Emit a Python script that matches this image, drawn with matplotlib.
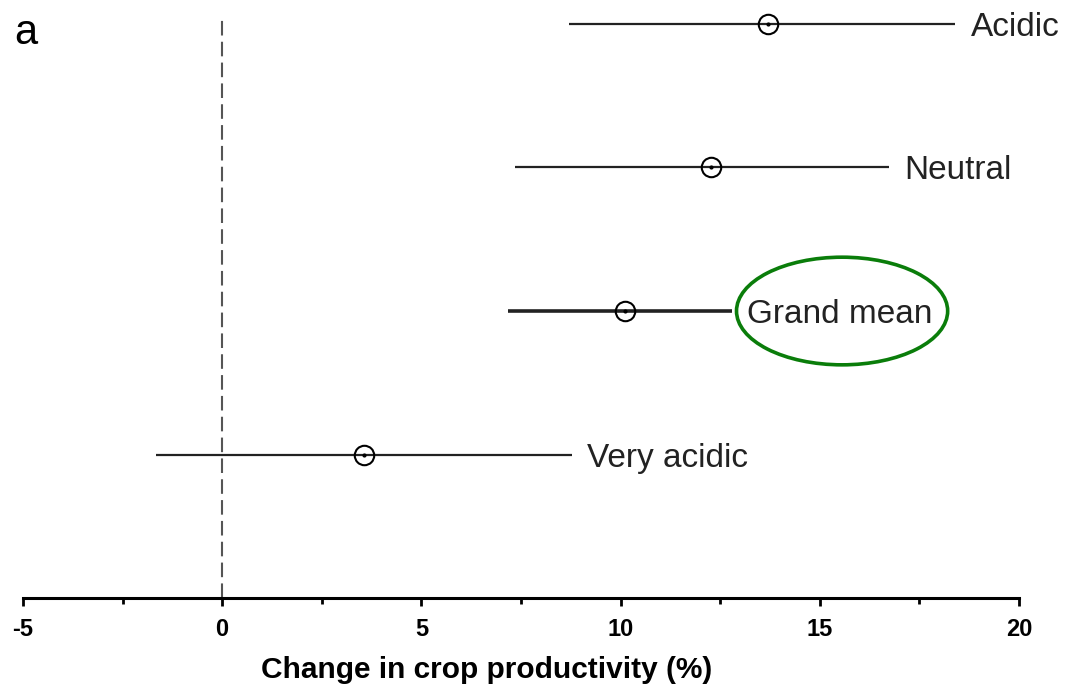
import numpy as np
import matplotlib.pyplot as plt
from matplotlib.patches import Ellipse

plt.rcParams['font.family'] = ['Liberation Sans', 'DejaVu Sans']
plt.rcParams['axes.unicode_minus'] = False

# effect sizes (%) with 95% CI
groups = ['Acidic', 'Neutral', 'Grand mean', 'Very acidic']
means = [13.7, 12.27, 10.12, 3.56]
lower = [8.71, 7.35, 7.18, -1.66]
upper = [18.4, 16.74, 12.8, 8.78]
ypos = [4, 3, 2, 1]

fig = plt.figure(figsize=(10.68, 6.93), dpi=100)
ax = fig.add_axes([0.0215, 0.137, 0.9326, 0.863])

for g, m, lo, hi, y in zip(groups, means, lower, upper, ypos):
    lw = 2.6 if g == 'Grand mean' else 1.6
    ax.plot([lo, hi], [y, y], color='#222222', lw=lw, solid_capstyle='butt')
    ax.plot(m, y, marker='o', ms=14, mfc='none', mec='black', mew=1.5)
    ax.plot(m, y, marker='o', ms=2, color='black')
    ax.annotate(g, xy=(hi, y), xytext=(11, 0), textcoords='offset points',
                ha='left', va='center_baseline', fontsize=24, color='#222222')

# highlight around grand mean label
ax.add_patch(Ellipse((15.56, 2.0), 5.3, 0.75, fill=False,
                     edgecolor='#0a7d0a', lw=2.6))

ax.axvline(0, ymin=0, ymax=0.975, color='#555555', lw=1.5, ls=(0, (7, 3)))

ax.set_xlim(-5, 20)
ax.set_ylim(0, 4.167)
ax.set_xticks([-5, 0, 5, 10, 15, 20])
ax.set_xticks(np.arange(-2.5, 20, 5), minor=True)
ax.set_yticks([])
for s in ['top', 'right', 'left']:
    ax.spines[s].set_visible(False)
ax.spines['bottom'].set_linewidth(2.2)
ax.tick_params(axis='x', which='major', length=6, width=2, pad=8,
               labelsize=17)
ax.tick_params(axis='x', which='minor', length=4, width=2)
for t in ax.get_xticklabels():
    t.set_fontweight('bold')
ax.set_xlabel('Change in crop productivity (%)', fontsize=21.5,
              fontweight='bold')
ax.xaxis.set_label_coords(0.466, -0.097)

fig.text(0.013, 0.953, 'a', fontsize=30, va='center', ha='left')

fig.savefig('out.png', dpi=100)
